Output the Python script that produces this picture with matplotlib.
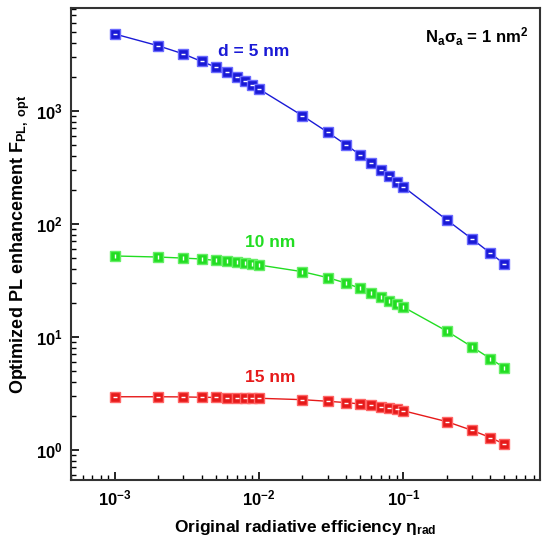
import numpy as np
import matplotlib
matplotlib.use('Agg')
import matplotlib.pyplot as plt

plt.rcParams['font.family'] = ['Liberation Sans', 'DejaVu Sans']
plt.rcParams['font.weight'] = 'bold'
plt.rcParams['mathtext.fontset'] = 'custom'
plt.rcParams['mathtext.rm'] = 'Liberation Sans:bold'
plt.rcParams['mathtext.it'] = 'Liberation Sans:bold'
plt.rcParams['mathtext.bf'] = 'Liberation Sans:bold'
plt.rcParams['mathtext.sf'] = 'Liberation Sans:bold'

# Data
eta = [0.001, 0.002, 0.003, 0.004, 0.005, 0.006, 0.007, 0.008, 0.009, 0.01,
       0.02, 0.03, 0.04, 0.05, 0.06, 0.07, 0.08, 0.09, 0.1,
       0.2, 0.3, 0.4, 0.5]
f_5nm = [4780, 3760, 3180, 2730, 2440, 2180, 1970, 1820, 1675, 1556,
         903, 643, 500, 408, 347, 297, 262, 236, 212,
         108, 73, 55, 44]
f_10nm = [51.8, 50.7, 49.6, 48.7, 47.3, 46.8, 46.1, 45.2, 44.3, 43.1,
          37.6, 33.3, 29.8, 26.8, 24.4, 22.4, 20.8, 19.5, 18.3,
          11.2, 8.1, 6.4, 5.3]
f_15nm = [2.94, 2.94, 2.93, 2.91, 2.90, 2.89, 2.88, 2.87, 2.86, 2.85,
          2.77, 2.68, 2.61, 2.54, 2.47, 2.40, 2.34, 2.27, 2.21,
          1.77, 1.48, 1.28, 1.12]

series = [
    (f_5nm, '#1a1ad6', '#6a6aff', '_'),
    (f_10nm, '#22dd22', '#66ee66', '|'),
    (f_15nm, '#e61a1a', '#ff6666', '_'),
]

fig, ax = plt.subplots(figsize=(5.43, 5.38), dpi=100)
fig.subplots_adjust(left=0.131, right=0.994, top=0.985, bottom=0.108)

for y, c, ec, inner in series:
    ax.plot(eta, y, '-', color=c, lw=1.0, marker='s', ms=6.5,
            mfc=c, mec=ec, mew=1.0)
    ax.plot(eta, y, ls='none', marker=inner, ms=3.5, mec='white', mew=1.0)

ax.set_xscale('log')
ax.set_yscale('log')
ax.set_xlim(5e-4, 0.88)
ax.set_ylim(0.54, 8100)

for s in ax.spines.values():
    s.set_linewidth(1.5)
    s.set_color('#333333')

ax.tick_params(which='both', direction='in', top=False, right=False,
               labelsize=12, pad=6)
ax.tick_params(which='major', length=6, width=1.2)
ax.tick_params(which='minor', length=3.5, width=1.0)

ax.set_xlabel(r'Original radiative efficiency $\eta_{rad}$', fontsize=12.5,
              fontweight='bold', labelpad=7)
ax.set_ylabel(r'Optimized PL enhancement F$_{PL,\ opt}$', fontsize=13,
              fontweight='bold', labelpad=3)

ax.text(0.39, 0.907, 'd = 5 nm', transform=ax.transAxes, color='#1a1ad6',
        fontsize=12.5, fontweight='bold', ha='center', va='center')
ax.text(0.425, 0.503, '10 nm', transform=ax.transAxes, color='#22dd22',
        fontsize=12.5, fontweight='bold', ha='center', va='center')
ax.text(0.425, 0.218, '15 nm', transform=ax.transAxes, color='#e61a1a',
        fontsize=12.5, fontweight='bold', ha='center', va='center')
ax.text(0.975, 0.94, r'N$_a\sigma_a$ = 1 nm$^2$', transform=ax.transAxes,
        color='black', fontsize=12, fontweight='bold', ha='right', va='center')

fig.savefig('out.png', dpi=100)
